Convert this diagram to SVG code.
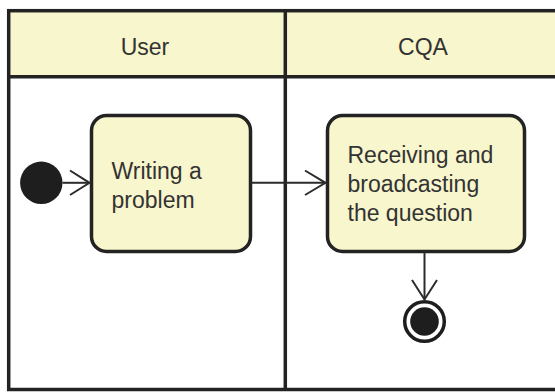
<svg xmlns="http://www.w3.org/2000/svg" width="555" height="392" viewBox="0 0 555 392">
  <style>
    .frame { fill: none; stroke: #232323; stroke-width: 3.5; }
    .header { fill: #f8f6cc; }
    .action { fill: #f8f6cc; stroke: #232323; stroke-width: 3.5; }
    .label { font-family: "Liberation Sans", Arial, sans-serif; font-size: 23px; fill: #333333; }
    .edge { fill: none; stroke: #2b2b2b; stroke-width: 2; }
    .head { fill: none; stroke: #2b2b2b; stroke-width: 2; stroke-linejoin: miter; }
  </style>

  <rect width="555" height="392" fill="#ffffff"/>

  <!-- swimlanes -->
  <g id="lanes">
    <rect class="header" x="8.7" y="10.7" width="548" height="66"/>
    <rect class="frame" x="8.7" y="10.7" width="548.5" height="378.8"/>
    <line class="frame" x1="8.7" y1="76.7" x2="557" y2="76.7"/>
    <line class="frame" x1="285.3" y1="10.7" x2="285.3" y2="389.5"/>
    <text class="label" x="145" y="54.5" text-anchor="middle">User</text>
    <text class="label" x="423" y="54.5" text-anchor="middle">CQA</text>
  </g>

  <!-- start node -->
  <g id="start">
    <circle cx="41.3" cy="182.8" r="21.2" fill="#1e1e1e"/>
  </g>

  <!-- action: writing a problem -->
  <g id="writing">
    <rect class="action" x="91.5" y="115.5" width="159" height="136" rx="15" ry="15"/>
    <text class="label" x="111.5" y="179">Writing a</text>
    <text class="label" x="111.5" y="207.5">problem</text>
  </g>

  <!-- action: receiving and broadcasting -->
  <g id="receiving">
    <rect class="action" x="327.5" y="115.5" width="197" height="136" rx="15" ry="15"/>
    <text class="label" x="347.5" y="162.7">Receiving and</text>
    <text class="label" x="347.5" y="191.7">broadcasting</text>
    <text class="label" x="347.5" y="220.7">the question</text>
  </g>

  <!-- final node -->
  <g id="end">
    <circle cx="424.5" cy="321.5" r="19.8" fill="#ffffff" stroke="#1e1e1e" stroke-width="3.5"/>
    <circle cx="424.5" cy="321.5" r="14.3" fill="#1e1e1e"/>
  </g>

  <!-- control flows -->
  <g id="connectors">
    <line class="edge" x1="62.5" y1="182.8" x2="89.5" y2="182.8"/>
    <polyline class="head" points="70,170.5 89.5,182.8 70,195"/>

    <line class="edge" x1="250.5" y1="182.8" x2="325.5" y2="182.8"/>
    <polyline class="head" points="305,170.5 325.5,182.8 305,195"/>

    <line class="edge" x1="424.5" y1="251.5" x2="424.5" y2="299.5"/>
    <polyline class="head" points="412,280 424.5,299.5 437,280"/>
  </g>
</svg>
